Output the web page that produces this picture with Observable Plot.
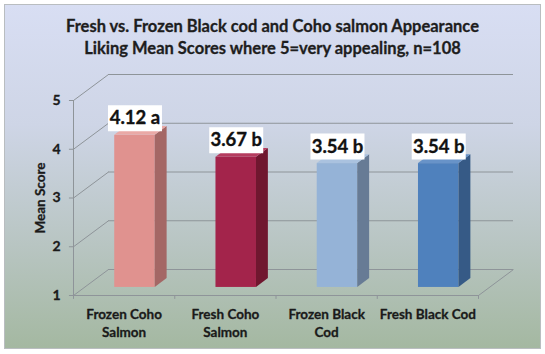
<!DOCTYPE html>
<html>
<head>
<meta charset="utf-8">
<script src="https://cdn.jsdelivr.net/npm/d3@7"></script>
<script src="https://cdn.jsdelivr.net/npm/@observablehq/plot@0.6"></script>
<style>
  html, body { margin: 0; padding: 0; background: #ffffff; }
  #wrap { position: relative; width: 545px; height: 354px; overflow: hidden; font-family: Lato, "Open Sans", sans-serif; }
  #bg { position: absolute; left: 4px; top: 4px; width: 535px; height: 343px;
        border: 1px solid #b9bdc0;
        background: linear-gradient(to bottom, #d8def3 0%, #ced5e6 35%, #b8c5c2 70%, #a4b8a1 100%); }
  #title { position: relative; height: 62px; box-sizing: border-box; padding-top: 15px;
           text-align: center; font-weight: bold; font-size: 16.5px; line-height: 22px; color: #1e1e1e;
           -webkit-text-stroke: 0.3px #1e1e1e; }
  #chart { position: relative; height: 292px; }
  #chart svg { display: block; }
</style>
</head>
<body>
<div id="wrap">
  <div id="bg"></div>
  <div id="title">Fresh vs. Frozen Black cod and Coho salmon Appearance<br>Liking Mean Scores where 5=very appealing, n=108</div>
  <div id="chart"></div>
</div>
<script>
// ---- data ----
const categories = ["Frozen Coho Salmon", "Fresh Coho Salmon", "Frozen Black Cod", "Fresh Black Cod"];
const categoryLabels = ["Frozen Coho\nSalmon", "Fresh Coho\nSalmon", "Frozen Black\nCod", "Fresh Black Cod"];
const meanScores = [4.12, 3.67, 3.54, 3.54];
const groupLetters = ["a", "b", "b", "b"];
const yTicks = [1, 2, 3, 4, 5];
const yLabel = "Mean Score";

// ---- styles ----
const frontColors = ["#e0928f", "#a3244b", "#95b3d7", "#4f81bd"];
const sideColors  = ["#a46765", "#70172f", "#677b95", "#365a86"];
const topColors   = ["#eaa9a6", "#b53c5f", "#aac2df", "#6893c8"];
const gridColor = "#8e9499";

// ---- 3D projection (in data units) ----
const DX = 35 / 101.25;   // depth offset along x
const DY = 26 / 48.75;    // depth offset along y
const T0 = 0.31, T1 = 0.65, HALF = 0.2;

const bars = categories.map((c, i) => ({
  i, c, v: meanScores[i], label: `${meanScores[i].toFixed(2)} ${groupLetters[i]}`
}));
const sidePts = bars.flatMap(d => [T0, T1].map(t => ({
  i: d.i, x: d.i + 0.5 + HALF + t * DX, y1: 1 + t * DY, y2: d.v + t * DY
})));
const topPts = bars.flatMap(d => [T0, T1].map(t => ({
  i: d.i, y: d.v + t * DY, x1: d.i + 0.5 - HALF + t * DX, x2: d.i + 0.5 + HALF + t * DX
})));
const bandEdges = d3.range(categories.length + 1);

const boxSymbol = { draw(ctx) { ctx.rect(-27, -13, 54, 26); } };
const txt = "#1a1a1a";

const plot = Plot.plot({
  width: 545,
  height: 292,
  marginLeft: 73,
  marginRight: 67,
  marginTop: 38,
  marginBottom: 59,
  x: { type: "linear", domain: [0, categories.length], axis: null },
  y: { type: "linear", domain: [1, 5], axis: null },
  color: { type: "identity" },
  style: { background: "transparent", fontFamily: "Lato, 'Open Sans', sans-serif", overflow: "visible" },
  marks: [
    // back wall grid lines
    Plot.ruleY(yTicks, { y: d => d + DY, x1: DX, x2: categories.length + DX, stroke: gridColor, strokeWidth: 1 }),
    // left wall diagonals
    Plot.link(yTicks, { x1: 0, y1: d => d, x2: DX, y2: d => d + DY, stroke: gridColor, strokeWidth: 1 }),
    // floor right edge
    Plot.link([categories.length], { x1: d => d, y1: 1, x2: d => d + DX, y2: 1 + DY, stroke: gridColor, strokeWidth: 1 }),
    // front axes
    Plot.ruleX([0], { y1: 1, y2: 5, stroke: gridColor, strokeWidth: 1 }),
    Plot.ruleY([1], { x1: 0, x2: categories.length, stroke: gridColor, strokeWidth: 1 }),
    // tick marks
    Plot.ruleX(bandEdges, { x: d => d, y1: 1, y2: 1 - 0.08, stroke: gridColor }),
    Plot.ruleY(yTicks, { y: d => d, x1: 0, x2: -0.04, stroke: gridColor }),
    // bars: front, side, top
    Plot.rect(bars, {
      x1: d => d.i + 0.5 - HALF + T0 * DX, x2: d => d.i + 0.5 + HALF + T0 * DX,
      y1: 1 + T0 * DY, y2: d => d.v + T0 * DY, fill: d => frontColors[d.i]
    }),
    Plot.areaY(sidePts, { x: "x", y1: "y1", y2: "y2", z: "i", fill: d => sideColors[d.i] }),
    Plot.areaX(topPts, { y: "y", x1: "x1", x2: "x2", z: "i", fill: d => topColors[d.i] }),
    // value labels with white boxes
    Plot.dot(bars, { x: d => d.i + 0.5 + T0 * DX, y: d => d.v + T0 * DY, dy: -17, symbol: boxSymbol, r: 5, fill: "white", stroke: "none" }),
    Plot.text(bars, { x: d => d.i + 0.5 + T0 * DX, y: d => d.v + T0 * DY, dy: -17, text: "label", fontSize: 18.5, fontWeight: "bold", fill: "#111", stroke: "#111", strokeWidth: 0.35 }),
    // y tick labels
    Plot.text(yTicks, { x: 0, y: d => d, dx: -13, textAnchor: "end", text: d => String(d), fontSize: 14, fontWeight: "bold", fill: txt, stroke: txt, strokeWidth: 0.3 }),
    // y axis title
    Plot.text([yLabel], { x: 0, y: 3, dx: -33, rotate: -90, text: d => d, fontSize: 13.5, fontWeight: "bold", fill: txt, stroke: txt, strokeWidth: 0.3 }),
    // x category labels
    Plot.text(bars, { x: d => d.i + 0.5, y: 1, dy: 11, text: d => categoryLabels[d.i], lineAnchor: "top", lineHeight: 1.33, fontSize: 13.5, fontWeight: "bold", fill: txt, stroke: txt, strokeWidth: 0.3 })
  ]
});
document.getElementById("chart").appendChild(plot);
</script>
</body>
</html>
